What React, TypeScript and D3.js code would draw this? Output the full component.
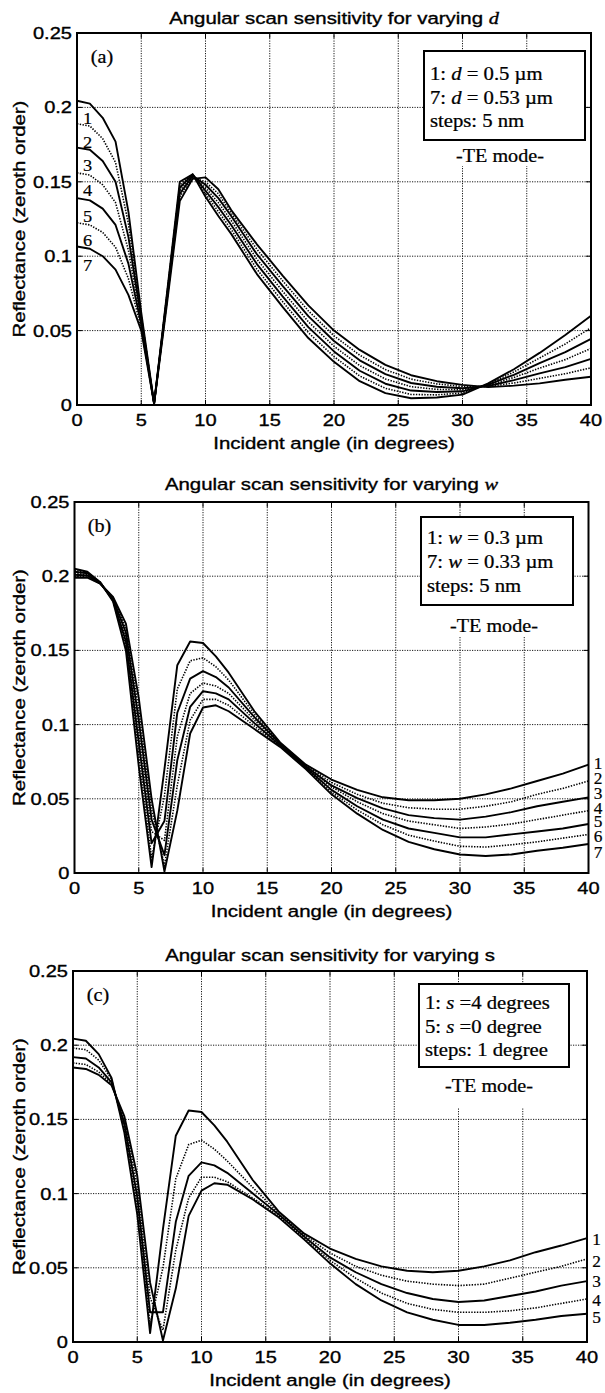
import React from 'react';
import * as d3 from 'd3';

// Incident angles (degrees) at which the reflectance curves are sampled
const angles = [0, 1, 2, 3, 4, 5, 6, 7, 8, 9, 10, 11, 12, 14, 16, 18, 20, 22, 24, 26, 28, 30, 32, 34, 36, 38, 40];
const xTickValues = [0, 5, 10, 15, 20, 25, 30, 35, 40];
const yTickValues = [0, 0.05, 0.1, 0.15, 0.2, 0.25];

// Panel (a): varying d (1: d = 0.5 µm ... 7: d = 0.53 µm)
const d1 = [.2045, .2025, .193, .177, .130, .062, .001, .075, .150, .155, .140, .127, .115, .088, .066, .045, .029, .016, .008, .0045, .005, .007, .0145, .024, .035, .047, .060];
const d2 = [.189, .1875, .179, .163, .122, .060, .001, .074, .148, .155, .142, .130, .118, .0913, .0695, .0487, .0325, .0195, .0112, .0071, .0068, .0081, .0141, .0222, .0316, .041, .052];
const d3v = [.173, .1715, .164, .150, .113, .058, .001, .073, .146, .155, .144, .133, .121, .0947, .073, .0523, .036, .023, .0143, .0097, .0087, .0092, .0137, .0203, .0282, .0355, .0445];
const d4 = [.156, .1545, .148, .136, .104, .056, .001, .072, .144, .154, .146, .136, .124, .098, .0765, .056, .0395, .0265, .0175, .0123, .0105, .0103, .0133, .0185, .0248, .0305, .038];
const d5 = [.139, .1375, .132, .121, .095, .054, .001, .071, .142, .154, .148, .139, .127, .1013, .080, .0597, .043, .030, .0207, .0148, .0123, .0113, .0128, .0167, .0213, .0255, .031];
const d6 = [.1225, .121, .116, .106, .085, .052, .001, .070, .140, .153, .150, .142, .129, .1047, .0835, .0633, .0465, .0335, .0238, .0174, .0142, .0124, .0124, .0148, .0179, .021, .025];
const d7 = [.1065, .105, .100, .091, .074, .050, .001, .068, .137, .152, .153, .145, .131, .108, .087, .067, .050, .037, .027, .020, .016, .0135, .012, .013, .0145, .017, .019];

// Panel (b): varying w (1: w = 0.3 µm ... 7: w = 0.33 µm)
const w1 = [.205, .203, .196, .183, .150, .072, .004, .070, .140, .156, .155, .146, .135, .109, .088, .073, .063, .056, .051, .049, .049, .050, .053, .057, .062, .067, .073];
const w2 = [.204, .2025, .196, .1835, .153, .080, .010, .052, .124, .143, .145, .139, .130, .107, .0875, .0725, .061, .053, .047, .044, .043, .043, .045, .048, .053, .057, .062];
const w3 = [.203, .202, .1955, .184, .156, .088, .020, .035, .108, .131, .136, .132, .125, .105, .087, .072, .059, .0505, .0435, .039, .037, .036, .038, .041, .045, .048, .051];
const w4 = [.202, .201, .1955, .1845, .159, .095, .028, .022, .092, .121, .128, .126, .121, .103, .0865, .0715, .058, .048, .040, .035, .0325, .030, .031, .033, .036, .039, .042];
const w5 = [.201, .2005, .195, .185, .162, .103, .036, .012, .076, .112, .1225, .121, .117, .101, .086, .071, .056, .045, .036, .030, .027, .024, .024, .026, .028, .030, .033];
const w6 = [.200, .1995, .195, .1855, .165, .110, .043, .005, .059, .103, .117, .117, .113, .099, .0855, .0705, .0545, .0425, .0325, .0255, .0215, .018, .0175, .019, .021, .0235, .026];
const w7 = [.199, .199, .195, .186, .168, .118, .050, .001, .042, .094, .1115, .113, .109, .097, .085, .070, .053, .040, .029, .021, .016, .0125, .0115, .0125, .015, .017, .0195];

// Panel (c): varying s (1: s = 4 degrees ... 5: s = 0 degree)
const s1 = [.2044, .203, .194, .178, .141, .086, .006, .076, .139, .156, .155, .146, .135, .109, .088, .073, .063, .056, .051, .048, .047, .048, .051, .055, .0605, .065, .070];
const s2 = [.198, .197, .190, .177, .144, .092, .012, .050, .110, .133, .136, .130, .122, .104, .087, .072, .060, .051, .045, .041, .039, .038, .039, .043, .047, .051, .056];
const s3 = [.192, .191, .185, .175, .147, .098, .020, .020, .081, .112, .121, .119, .114, .100, .086, .071, .057, .047, .039, .033, .029, .027, .028, .031, .034, .038, .041];
const s4 = [.188, .187, .182, .174, .150, .105, .030, .008, .062, .097, .111, .111, .108, .097, .085, .070, .055, .043, .033, .026, .022, .020, .020, .021, .023, .026, .029];
const s5 = [.185, .184, .180, .173, .152, .112, .040, .001, .036, .085, .102, .107, .106, .096, .084, .069, .053, .039, .028, .020, .015, .0115, .0115, .013, .015, .0175, .019];

// Curve-number annotations (reflectance level of each number)
const dLabelLevels = [.193, .177, .1615, .1447, .127, .111, .094];
const wLabelLevels = [.0735, .0634, .0536, .0438, .0344, .0243, .0135];
const sLabelLevels = [.0694, .054, .0407, .0279, .0167];

const SANS = "'Liberation Sans', Arial, Helvetica, sans-serif";
const SERIF = "'Liberation Serif', 'Times New Roman', Times, serif";

type TProps = { x: number; y: number; anchor?: string; size?: number; family?: string; sx?: number; rotate?: number; bold?: number; children: any };
function SText({ x, y, anchor = 'start', size = 17, family = SANS, sx = 1.18, rotate, bold = 0.35, children }: TProps) {
  const tr = `translate(${x},${y})` + (rotate ? ` rotate(${rotate})` : '') + ` scale(${sx},1)`;
  return (
    <text transform={tr} textAnchor={anchor} fontSize={size} fontFamily={family} fill="#000" stroke="#000" strokeWidth={bold}>
      {children}
    </text>
  );
}

type PanelCfg = {
  left: number; right: number; top: number; bottom: number; titleY: number;
  series: number[][]; titleVar: any; tag: string;
  legend: any[]; box: { x: number; y: number; w: number; h: number; first: number; step: number };
  te: { x: number; y: number; wx0: number; wx1: number; wy1: number };
  labelLevels: number[]; labelSide: 'left' | 'right';
};

function Panel({ cfg }: { cfg: PanelCfg }) {
  const x = d3.scaleLinear().domain([0, 40]).range([cfg.left, cfg.right]);
  const y = d3.scaleLinear().domain([0, 0.25]).range([cfg.bottom, cfg.top]);
  const line = d3.line<number>().x((_, i) => x(angles[i])).y((v) => y(v)).curve(d3.curveLinear);
  const cx = (cfg.left + cfg.right) / 2;
  const cy = (cfg.top + cfg.bottom) / 2;
  const gridStyle = { stroke: '#000', strokeWidth: 1, strokeDasharray: '1.2 1.3', opacity: 0.9 };
  const left = cfg.labelSide === 'left';
  return (
    <g>
      {xTickValues.slice(1, -1).map((t) => (
        <line key={'gx' + t} x1={x(t)} x2={x(t)} y1={cfg.top} y2={cfg.bottom} style={gridStyle} />
      ))}
      {yTickValues.slice(1, -1).map((t) => (
        <line key={'gy' + t} x1={cfg.left} x2={cfg.right} y1={y(t)} y2={y(t)} style={gridStyle} />
      ))}
      <rect x={cfg.box.x} y={cfg.box.y} width={cfg.box.w} height={cfg.box.h} fill="#fff" />
      <rect x={cfg.te.wx0} y={cfg.box.y + cfg.box.h} width={cfg.te.wx1 - cfg.te.wx0} height={cfg.te.wy1 - cfg.box.y - cfg.box.h} fill="#fff" />
      {xTickValues.map((t) => (
        <g key={'tx' + t}>
          <line x1={x(t)} x2={x(t)} y1={cfg.bottom} y2={cfg.bottom - 5} stroke="#000" strokeWidth={1} />
          <line x1={x(t)} x2={x(t)} y1={cfg.top} y2={cfg.top + 5} stroke="#000" strokeWidth={1} />
        </g>
      ))}
      {yTickValues.map((t) => (
        <g key={'ty' + t}>
          <line x1={cfg.left} x2={cfg.left + 5} y1={y(t)} y2={y(t)} stroke="#000" strokeWidth={1} />
          <line x1={cfg.right} x2={cfg.right - 5} y1={y(t)} y2={y(t)} stroke="#000" strokeWidth={1} />
        </g>
      ))}
      {cfg.series.map((s, i) => (
        <path
          key={'c' + i}
          d={line(s) || ''}
          fill="none"
          stroke="#000"
          strokeWidth={i % 2 === 0 ? 1.9 : 1.6}
          strokeDasharray={i % 2 === 0 ? undefined : '1.4 1.4'}
          strokeLinejoin="round"
        />
      ))}
      <rect x={cfg.box.x} y={cfg.box.y} width={cfg.box.w} height={cfg.box.h} fill="none" stroke="#000" strokeWidth={2} />
      {cfg.legend.map((l, i) => (
        <SText key={'lg' + i} x={cfg.box.x + 6} y={cfg.box.y + cfg.box.first + i * cfg.box.step} size={18} family={SERIF} sx={1.15} bold={0.25}>
          {l}
        </SText>
      ))}
      <SText x={cfg.te.x} y={cfg.te.y} anchor="middle" size={18} family={SERIF} sx={1.12} bold={0.25}>-TE mode-</SText>
      <SText x={cfg.left + 25} y={cfg.top + 30} anchor="middle" size={18} family={SERIF} sx={1.12} bold={0.25}>{cfg.tag}</SText>
      {cfg.labelLevels.map((v, i) => (
        <SText
          key={'n' + i}
          x={left ? cfg.left + 10.5 : cfg.right + 9.5}
          y={y(v) + (left ? 6 : 5.5)}
          anchor="middle"
          size={left ? 17.5 : 16.5}
          family={SERIF}
          sx={1.05}
          bold={0.2}
        >
          {String(i + 1)}
        </SText>
      ))}
      <rect x={cfg.left} y={cfg.top} width={cfg.right - cfg.left} height={cfg.bottom - cfg.top} fill="none" stroke="#000" strokeWidth={2} />
      {xTickValues.map((t) => (
        <SText key={'lx' + t} x={x(t)} y={cfg.bottom + 21} anchor="middle">{String(t)}</SText>
      ))}
      {yTickValues.map((t) => (
        <SText key={'ly' + t} x={cfg.left - 5} y={y(t) + 6} anchor="end">{String(+t.toFixed(2))}</SText>
      ))}
      <SText x={cx} y={cfg.bottom + 44} anchor="middle" sx={1.2}>Incident angle (in degrees)</SText>
      <SText x={25} y={cy} anchor="middle" rotate={-90} sx={1.2}>Reflectance (zeroth order)</SText>
      <SText x={cx} y={cfg.titleY} anchor="middle" sx={1.2}>
        Angular scan sensitivity for varying {cfg.titleVar}
      </SText>
    </g>
  );
}

const it = (s: string) => (
  <tspan fontFamily={SERIF} fontStyle="italic">{s}</tspan>
);

export default function App() {
  const panels: PanelCfg[] = [
    {
      left: 77, right: 591, top: 33, bottom: 405, titleY: 24,
      series: [d1, d2, d3v, d4, d5, d6, d7],
      titleVar: it('d'), tag: '(a)',
      legend: [
        <>1: {it('d')} = 0.5 µm</>,
        <>7: {it('d')} = 0.53 µm</>,
        <>steps: 5 nm</>,
      ],
      box: { x: 424, y: 51, w: 161, h: 89, first: 29, step: 23.5 },
      te: { x: 500, y: 162, wx0: 452, wx1: 548, wy1: 166 },
      labelLevels: dLabelLevels, labelSide: 'left',
    },
    {
      left: 74.5, right: 588.5, top: 502, bottom: 873, titleY: 490,
      series: [w1, w2, w3, w4, w5, w6, w7],
      titleVar: it('w'), tag: '(b)',
      legend: [
        <>1: {it('w')} = 0.3 µm</>,
        <>7: {it('w')} = 0.33 µm</>,
        <>steps: 5 nm</>,
      ],
      box: { x: 421, y: 517, w: 152, h: 88, first: 27, step: 24 },
      te: { x: 494, y: 632, wx0: 447, wx1: 541, wy1: 636 },
      labelLevels: wLabelLevels, labelSide: 'right',
    },
    {
      left: 73, right: 587, top: 971, bottom: 1342, titleY: 961,
      series: [s1, s2, s3, s4, s5],
      titleVar: 's', tag: '(c)',
      legend: [
        <>1: {it('s')} =4 degrees</>,
        <>5: {it('s')} =0 degree</>,
        <>steps: 1 degree</>,
      ],
      box: { x: 419, y: 984, w: 150, h: 83, first: 25, step: 23.5 },
      te: { x: 489, y: 1092, wx0: 442, wx1: 536, wy1: 1108 },
      labelLevels: sLabelLevels, labelSide: 'right',
    },
  ];
  return (
    <svg width={605} height={1393} style={{ position: 'absolute', left: 0, top: 0, background: '#fff' }}>
      <rect x={0} y={0} width={605} height={1393} fill="#fff" />
      {panels.map((p, i) => (
        <Panel key={i} cfg={p} />
      ))}
    </svg>
  );
}
